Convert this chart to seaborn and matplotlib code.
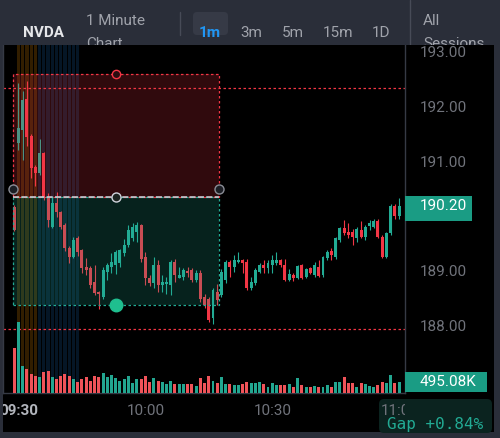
import numpy as np
import pandas as pd
import matplotlib
matplotlib.use("Agg")
import matplotlib.pyplot as plt
import matplotlib.transforms as mtransforms
from matplotlib.patches import Rectangle, FancyBboxPatch
import seaborn as sns

# 1 minute NVDA candles, 09:30 -> 11:01 (minute index from the open)
minutes = list(range(92))
opens = [190.19, 191.36, 191.60, 192.16, 191.49, 190.92, 190.81, 191.17, 190.37, 189.82,
         190.26, 190.10, 189.86, 189.44, 189.28, 189.62, 189.40, 189.10, 189.08, 188.82,
         188.64, 188.55, 189.00, 189.10, 189.13, 189.17, 189.35, 189.50, 189.62, 189.74,
         189.86, 189.28, 188.89, 188.81, 189.13, 188.77, 188.79, 188.77, 189.19, 188.89,
         188.92, 189.02, 189.04, 188.86, 188.98, 188.55, 188.51, 188.16, 188.64, 188.58,
         188.85, 189.19, 189.10, 189.19, 189.23, 189.19, 188.71, 188.80, 189.01, 189.13,
         189.07, 189.13, 189.16, 189.23, 189.13, 188.86, 188.95, 188.89, 189.13, 188.92,
         189.07, 188.95, 189.09, 188.95, 189.26, 189.39, 189.28, 189.58, 189.81, 189.74,
         189.74, 189.62, 189.77, 189.65, 189.84, 189.83, 189.94, 189.65, 189.28, 189.71,
         190.21, 190.03]
highs = [190.22, 192.45, 192.30, 192.49, 191.52, 190.96, 191.43, 191.20, 190.45, 190.37,
         190.46, 190.12, 189.90, 189.47, 189.64, 189.66, 189.43, 189.26, 189.12, 189.13,
         188.66, 189.10, 189.17, 189.35, 189.40, 189.43, 189.60, 189.86, 189.90, 189.92,
         189.88, 189.37, 188.95, 189.28, 189.22, 188.95, 188.92, 189.22, 189.25, 189.10,
         189.07, 189.10, 189.07, 189.04, 189.04, 188.60, 188.55, 188.71, 188.78, 189.05,
         189.22, 189.22, 189.31, 189.36, 189.25, 189.24, 188.92, 189.07, 189.16, 189.22,
         189.22, 189.31, 189.36, 189.25, 189.25, 189.06, 188.98, 189.14, 189.15, 189.07,
         189.10, 189.19, 189.22, 189.30, 189.41, 189.44, 189.64, 189.83, 189.96, 189.90,
         189.78, 189.83, 189.94, 189.86, 189.95, 189.97, 189.98, 189.67, 189.73, 190.24,
         190.25, 190.36]
lows = [189.75, 191.23, 191.05, 191.30, 190.72, 190.57, 190.78, 190.32, 189.82, 189.80,
        190.00, 189.78, 189.38, 189.17, 189.26, 189.30, 188.99, 188.95, 188.72, 188.58,
        188.33, 188.52, 188.86, 188.98, 188.97, 189.10, 189.30, 189.46, 189.57, 189.56,
        189.19, 188.77, 188.74, 188.71, 188.64, 188.64, 188.61, 188.58, 188.83, 188.89,
        188.86, 188.92, 188.83, 188.83, 188.46, 188.35, 188.10, 188.05, 188.40, 188.55,
        188.80, 188.92, 189.01, 189.16, 188.98, 188.68, 188.68, 188.77, 188.98, 188.98,
        188.98, 188.98, 189.13, 189.10, 188.84, 188.84, 188.84, 188.87, 188.87, 188.90,
        188.96, 188.92, 188.92, 188.92, 189.22, 189.22, 189.25, 189.55, 189.68, 189.62,
        189.50, 189.56, 189.62, 189.58, 189.77, 189.80, 189.62, 189.26, 189.26, 189.68,
        189.97, 189.97]
closes = [189.77, 191.63, 192.14, 191.47, 190.90, 190.81, 191.17, 190.35, 189.95, 190.26,
          190.10, 189.82, 189.44, 189.28, 189.59, 189.37, 189.08, 189.04, 188.77, 188.62,
          188.60, 189.04, 189.13, 189.19, 189.37, 189.40, 189.50, 189.77, 189.83, 189.86,
          189.25, 188.89, 188.81, 189.13, 188.77, 188.83, 188.83, 189.19, 188.95, 188.95,
          189.04, 188.98, 188.86, 188.98, 188.52, 188.40, 188.13, 188.68, 188.50, 189.01,
          189.19, 189.10, 189.22, 189.23, 189.17, 188.71, 188.83, 189.04, 189.13, 189.07,
          189.16, 189.22, 189.23, 189.13, 188.86, 188.96, 188.89, 189.12, 188.89, 189.05,
          188.98, 189.13, 188.93, 189.27, 189.36, 189.31, 189.62, 189.81, 189.72, 189.68,
          189.65, 189.78, 189.65, 189.83, 189.90, 189.94, 189.64, 189.28, 189.71, 190.21,
          190.03, 190.20]
volumes_k = [2030, 3200, 1220, 1080, 860, 770, 720, 950, 990, 720,
             630, 770, 860, 770, 630, 500, 630, 720, 540, 770,
             720, 900, 720, 810, 680, 540, 630, 770, 450, 630,
             630, 770, 500, 680, 540, 500, 410, 540, 410, 410,
             410, 410, 410, 320, 680, 450, 770, 540, 450, 720,
             410, 410, 360, 360, 410, 510, 440, 440, 510, 410,
             260, 440, 360, 360, 360, 390, 260, 660, 360, 260,
             260, 330, 280, 280, 360, 280, 510, 510, 710, 440,
             440, 260, 440, 410, 320, 280, 360, 480, 440, 810,
             440, 495.08]

time_ticks = [0, 30, 60, 90]
time_labels = ["09:30", "10:00", "10:30", "11:00"]
price_ticks = [188, 189, 190, 191, 192, 193]

# short position tool
pos_start, pos_end = -0.3, 48.4
stop_price, entry_price, target_price = 192.62, 190.37, 188.40
level_lines = [192.36, 187.96]
orange_span = (1, 5)
blue_span = (6, 15)
gap_text = "Gap +0.84%"
volume_label = "495.08K"

W, H = 500, 438
PANEL = "#2a2e39"
EDGE = "#363a45"
UP = "#22ab94"
DOWN = "#f23645"
VOL_UP = "#22a690"
VOL_DOWN = "#f05359"
TXT = "#70737b"

sns.set_theme(style="dark", rc={"axes.facecolor": "black", "figure.facecolor": PANEL,
                                "axes.edgecolor": EDGE})
plt.rcParams["font.family"] = ["Roboto", "DejaVu Sans"]

fig = plt.figure(figsize=(W / 100, H / 100), dpi=100)


def px_axes(x0, y0, x1, y1):
    return fig.add_axes([x0 / W, 1 - y1 / H, (x1 - x0) / W, (y1 - y0) / H])


fig.patches.append(Rectangle((3 / W, 6 / H), 491 / W, 387 / H, transform=fig.transFigure,
                             fc="black", ec="none", zorder=-5))

df = pd.DataFrame({"minute": minutes, "open": opens, "high": highs, "low": lows,
                   "close": closes, "volume": volumes_k})
df["dir"] = np.where(df["close"] >= df["open"], "up", "down")
colors = np.where(df["dir"] == "up", UP, DOWN)

# price pane
ax = px_axes(3, 45, 405, 393)
xlim = (-2.65, 92.39)
ylim = (186.796, 193.146)
ax.set_xlim(xlim)
ax.set_ylim(ylim)
ax.set_xticks([])
ax.set_yticks([])
ax.grid(False)
ax.spines["top"].set_visible(False)
for s in ["left", "right", "bottom"]:
    ax.spines[s].set_color(EDGE)
    ax.spines[s].set_linewidth(1)

for lo, hi, col, a in [(orange_span[0], orange_span[1], "#ff9800", 0.2),
                       (blue_span[0], blue_span[1], "#1e88e5", 0.17)]:
    for m in range(lo, hi + 1):
        ax.axvspan(m - 0.38, m + 0.38, color=col, alpha=a, lw=0, zorder=1)

body_low = np.minimum(df["open"], df["close"])
body_h = np.maximum((df["close"] - df["open"]).abs(), 0.02)
ax.vlines(df["minute"], df["low"], df["high"], colors=colors, lw=0.8, zorder=3)
ax.bar(df["minute"], body_h, bottom=body_low, width=0.7, color=colors, lw=0, zorder=3)

for lvl in level_lines:
    ax.axhline(lvl, color=DOWN, lw=0.9, ls=(0, (2, 2)), zorder=2)

# position tool
w = pos_end - pos_start
ax.add_patch(Rectangle((pos_start, entry_price), w, stop_price - entry_price,
                       fc=DOWN, alpha=0.2, lw=0, zorder=4))
ax.add_patch(Rectangle((pos_start, target_price), w, entry_price - target_price,
                       fc=UP, alpha=0.2, lw=0, zorder=4))
ax.add_patch(Rectangle((pos_start, entry_price), w, stop_price - entry_price,
                       fill=False, ec=DOWN, lw=0.9, ls=(0, (2, 2)), zorder=5))
ax.add_patch(Rectangle((pos_start, target_price), w, entry_price - target_price,
                       fill=False, ec=UP, lw=0.9, ls=(0, (2, 2)), zorder=5))
ax.plot([pos_start, pos_end], [entry_price, entry_price], color="#d1d4dc",
        lw=1.1, ls=(0, (4, 1.5)), zorder=6)
mid = (pos_start + pos_end) / 2
ax.plot(mid, stop_price, "o", ms=6, mfc="#2a0d10", mec=DOWN, mew=1, zorder=7)
ax.plot([pos_start, pos_end], [entry_price + 0.15] * 2, "o", ms=6.5, mfc="#1c1e24",
        mec="#8a8d96", mew=1, zorder=7, clip_on=False)
ax.plot(mid, entry_price, "o", ms=6.5, mfc="#1c2420", mec="#d1d4dc", mew=1, zorder=7)
ax.plot(mid, target_price, "o", ms=9, color="#1fbf8f", zorder=7)

# volume pane
axv = ax.twinx()
sns.barplot(data=df, x="minute", y="volume", hue="dir",
            palette={"up": VOL_UP, "down": VOL_DOWN}, native_scale=True,
            width=0.7, dodge=False, legend=False, saturation=1, errorbar=None,
            linewidth=0, ax=axv)
axv.set_ylim(0, 348 * 45)
axv.set_axis_off()
ax.set_xlim(xlim)

# price scale
pax = px_axes(405, 45, 494, 393)
pax.set_xlim(0, 89)
pax.set_ylim(ylim)
pax.set_axis_off()
for p in price_ticks:
    pax.text(15, p, f"{p:.2f}", ha="left", va="center", fontsize=11, color=TXT, zorder=2)
last = closes[-1]
pax.add_patch(Rectangle((0, last - 0.27), 67, 0.456, fc="#1a9c84", lw=0, zorder=3))
pax.text(15, last, f"{last:.2f}", ha="left", va="center", fontsize=11,
         color="white", zorder=4)
vtrans = mtransforms.blended_transform_factory(pax.transData, axv.transData)
pax.add_patch(Rectangle((0, volumes_k[-1] - 450), 82, 900, transform=vtrans,
                        fc="#1a9c84", lw=0, zorder=3))
pax.text(15, volumes_k[-1], volume_label, transform=vtrans, ha="left", va="center",
         fontsize=11, color="white", zorder=4)

# gap badge
gax = px_axes(378, 398, 494, 433)
gax.set_xlim(0, 116)
gax.set_ylim(35, 0)
gax.set_axis_off()
gax.add_patch(FancyBboxPatch((1, 1), 113, 34, boxstyle="round,pad=0,rounding_size=5",
                             fc="#0b231f", ec="none"))
gax.text(57, 27, gap_text, ha="center", va="center", fontsize=11.5,
         family="DejaVu Sans Mono", color=UP)

# time axis
tax = px_axes(3, 393, 405, 432)
tax.set_xlim(xlim)
tax.set_ylim(432, 393)
tax.set_axis_off()
shift = tax.transData + mtransforms.ScaledTranslation(4.5 / 100, 0, fig.dpi_scale_trans)
for m, lab in zip(time_ticks, time_labels):
    first = m == time_ticks[0]
    tax.text(m, 411, lab, transform=shift, ha="center", va="center", fontsize=11,
             color="#b2b5bc" if first else TXT, fontweight="bold" if first else "normal",
             clip_on=True)

# toolbar
tb = px_axes(0, 0, 500, 45)
tb.set_zorder(5)
tb.set_xlim(0, 500)
tb.set_ylim(45, 0)
tb.set_axis_off()
tb.add_patch(Rectangle((0, 0), 500, 45, fc=PANEL, lw=0))
tb.add_patch(FancyBboxPatch((193, 12), 35, 23, boxstyle="round,pad=0,rounding_size=4",
                            fc="#363a46", ec="none"))
tb.plot([180, 180], [12, 35], color="#474b57", lw=1)
tb.plot([410, 410], [0, 45], color="#474b57", lw=1)
tb.text(44, 33, "NVDA", ha="center", va="center", fontsize=11, fontweight="bold",
        color="#e6e7ea")
tb.text(86, 21, "1 Minute", ha="left", va="center", fontsize=11, color="#a0a3ab")
tb.text(86, 44, "Chart", ha="left", va="center", fontsize=11, color="#a0a3ab", clip_on=True)
tb.text(210, 33, "1m", ha="center", va="center", fontsize=11, fontweight="bold",
        color="#2196f3")
for cx, lab in [(251.5, "3m"), (292.5, "5m"), (337.5, "15m"), (381, "1D")]:
    tb.text(cx, 33, lab, ha="center", va="center", fontsize=11, color="#a0a3ab")
tb.text(423, 21, "All", ha="left", va="center", fontsize=11, color="#a0a3ab")
tb.text(423, 44, "Sessions", ha="left", va="center", fontsize=11, color="#a0a3ab",
        clip_on=True)

fig.savefig("out.png", dpi=100, facecolor=PANEL)
